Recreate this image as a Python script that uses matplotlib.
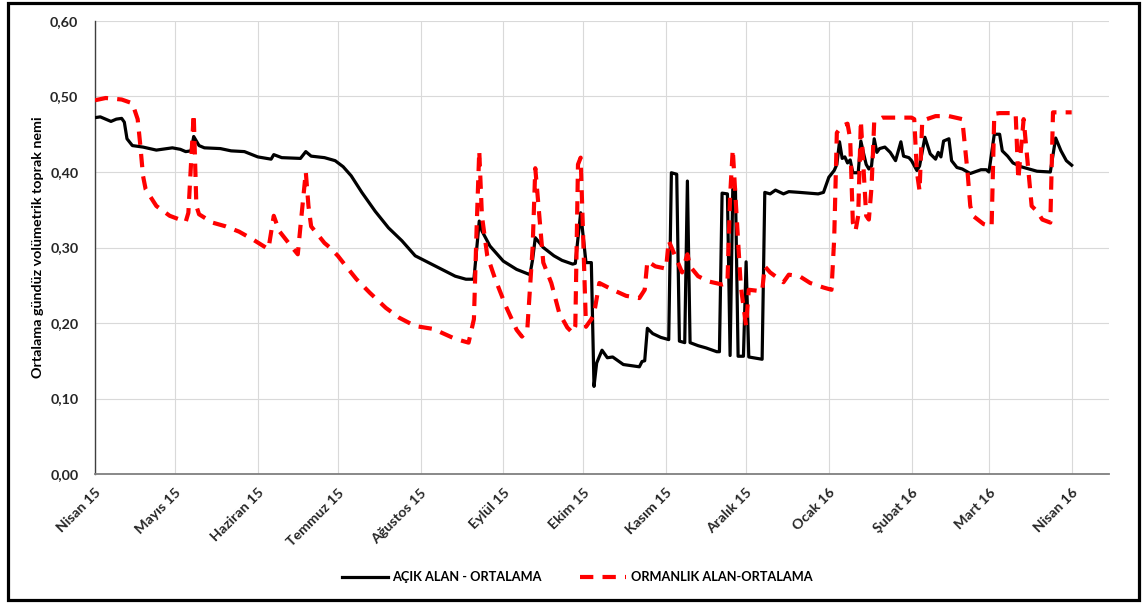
import numpy as np
import pandas as pd
import matplotlib
matplotlib.use('Agg')
import matplotlib.pyplot as plt
from matplotlib.patches import Rectangle

plt.rcParams['font.family'] = ['Lato', 'DejaVu Sans']
plt.rcParams['font.weight'] = 'bold'

baslangic = pd.Timestamp('2015-04-01')

# açık alan: gün (1 Nisan 2015'ten itibaren) ve ortalama nem
acik_gun = [0, 2, 6, 8, 10, 11, 12, 14, 18, 23, 29, 32, 34, 36, 37, 39, 41, 47, 51, 56,
            61, 66, 67, 70, 77, 79, 81, 86, 90, 93, 96, 100, 105, 110, 115, 120, 125, 130,
            135, 139, 142, 144, 145, 148, 153, 158, 163, 164, 165, 168, 172, 175, 179, 180,
            182, 184, 186, 187, 188, 190, 192, 194, 198, 202, 204, 205, 206, 207, 209, 212,
            215, 216, 218, 219, 221, 222, 223, 226, 229, 233, 234, 235, 237, 238, 239, 240,
            241, 243, 244, 245, 250, 251, 253, 255, 258, 260, 264, 271, 273, 275, 277, 278,
            279, 280, 281, 282, 283, 284, 286, 287, 288, 289, 290, 291, 292, 293, 294, 296,
            298, 300, 302, 303, 305, 306, 308, 309, 311, 313, 315, 316, 317, 318, 320, 321,
            323, 325, 328, 332, 334, 335, 337, 339, 340, 342, 344, 347, 349, 353, 358, 360,
            362, 364, 366]
acik_nem = [0.472, 0.473, 0.467, 0.470, 0.471, 0.466, 0.444, 0.435, 0.433, 0.429, 0.432, 0.430,
            0.427, 0.428, 0.447, 0.435, 0.432, 0.431, 0.428, 0.427, 0.420, 0.417, 0.423, 0.419,
            0.418, 0.427, 0.421, 0.419, 0.415, 0.407, 0.395, 0.373, 0.348, 0.326, 0.309, 0.289,
            0.280, 0.271, 0.262, 0.258, 0.258, 0.335, 0.322, 0.302, 0.282, 0.271, 0.264, 0.284,
            0.313, 0.300, 0.289, 0.283, 0.278, 0.279, 0.346, 0.280, 0.280, 0.116, 0.147, 0.164,
            0.154, 0.155, 0.145, 0.143, 0.142, 0.149, 0.150, 0.193, 0.186, 0.181, 0.178, 0.399,
            0.397, 0.176, 0.174, 0.388, 0.174, 0.170, 0.167, 0.162, 0.162, 0.372, 0.371, 0.157,
            0.377, 0.379, 0.156, 0.156, 0.281, 0.155, 0.152, 0.373, 0.371, 0.376, 0.371, 0.374,
            0.373, 0.371, 0.373, 0.393, 0.402, 0.410, 0.440, 0.418, 0.420, 0.412, 0.416, 0.399,
            0.399, 0.441, 0.425, 0.410, 0.404, 0.408, 0.444, 0.426, 0.431, 0.433, 0.426, 0.415,
            0.440, 0.421, 0.419, 0.415, 0.402, 0.408, 0.446, 0.424, 0.417, 0.426, 0.420, 0.441,
            0.444, 0.415, 0.406, 0.404, 0.398, 0.403, 0.403, 0.400, 0.450, 0.450, 0.428, 0.421,
            0.412, 0.407, 0.405, 0.401, 0.400, 0.445, 0.428, 0.415, 0.409]

# ormanlık alan
orman_gun = [0, 4, 10, 14, 16, 17, 18, 19, 23, 28, 34, 35, 37, 38, 39, 44, 49, 54, 59, 64,
             65, 67, 69, 73, 76, 77, 79, 80, 81, 86, 88, 91, 93, 98, 103, 109, 114, 120, 127,
             130, 135, 140, 142, 143, 144, 145, 147, 150, 154, 158, 160, 162, 164, 165, 168,
             171, 174, 177, 179, 180, 181, 182, 184, 186, 187, 189, 194, 199, 204, 206, 207,
             210, 214, 215, 218, 220, 222, 223, 226, 230, 235, 237, 238, 239, 240, 242, 244,
             245, 250, 251, 253, 258, 260, 264, 268, 273, 276, 277, 278, 280, 282, 283, 284,
             285, 286, 287, 289, 290, 291, 292, 295, 301, 306, 307, 308, 309, 310, 315, 320,
             325, 327, 328, 329, 333, 336, 337, 339, 345, 346, 348, 351, 353, 355, 358, 359,
             366]
orman_nem = [0.495, 0.498, 0.496, 0.491, 0.470, 0.435, 0.395, 0.377, 0.355, 0.342, 0.334,
             0.346, 0.477, 0.355, 0.344, 0.333, 0.328, 0.321, 0.311, 0.300, 0.298, 0.342,
             0.322, 0.304, 0.291, 0.328, 0.400, 0.355, 0.328, 0.306, 0.300, 0.289, 0.280,
             0.258, 0.240, 0.220, 0.207, 0.196, 0.192, 0.187, 0.179, 0.174, 0.205, 0.324,
             0.428, 0.342, 0.289, 0.258, 0.222, 0.191, 0.182, 0.191, 0.300, 0.405, 0.280,
             0.253, 0.213, 0.194, 0.187, 0.196, 0.410, 0.419, 0.195, 0.205, 0.212, 0.253,
             0.244, 0.236, 0.233, 0.244, 0.282, 0.275, 0.272, 0.309, 0.284, 0.267, 0.291,
             0.275, 0.262, 0.255, 0.251, 0.253, 0.368, 0.430, 0.368, 0.249, 0.196, 0.244,
             0.242, 0.275, 0.267, 0.254, 0.264, 0.262, 0.253, 0.247, 0.244, 0.311, 0.452,
             0.461, 0.464, 0.444, 0.333, 0.322, 0.342, 0.468, 0.342, 0.337, 0.380, 0.466,
             0.472, 0.472, 0.472, 0.470, 0.400, 0.375, 0.468, 0.474, 0.474, 0.470, 0.399,
             0.355, 0.342, 0.331, 0.328, 0.477, 0.478, 0.478, 0.390, 0.470, 0.355, 0.348,
             0.337, 0.333, 0.479, 0.479]

aylar = ['Nisan 15', 'Mayıs 15', 'Haziran 15', 'Temmuz 15', 'Ağustos 15', 'Eylül 15',
         'Ekim 15', 'Kasım 15', 'Aralık 15', 'Ocak 16', 'Şubat 16', 'Mart 16', 'Nisan 16']

acik_tarih = baslangic + pd.to_timedelta(acik_gun, unit='D')
orman_tarih = baslangic + pd.to_timedelta(orman_gun, unit='D')
ay_basi = pd.date_range('2015-04-01', periods=len(aylar), freq='MS')

fig = plt.figure(figsize=(11.47, 6.03), dpi=100)
ax = fig.add_axes([0.0828, 0.2139, 0.8841, 0.7513])

ax.plot(acik_tarih, acik_nem, color='black', lw=2.3, solid_joinstyle='round',
        label='AÇIK ALAN - ORTALAMA', zorder=3)
ax.plot(orman_tarih, orman_nem, color='#ff0000', lw=3.0, dashes=(3.2, 2.2),
        label='ORMANLIK ALAN-ORTALAMA', zorder=4)

ax.set_xlim(pd.Timestamp('2015-04-01'), pd.Timestamp('2016-04-15'))
ax.set_ylim(0, 0.6)
ax.set_yticks(np.arange(0, 0.61, 0.1))
ax.set_yticklabels(['{:.2f}'.format(v).replace('.', ',') for v in np.arange(0, 0.61, 0.1)],
                   fontsize=10.3, fontweight='bold')
ax.set_xticks(ay_basi)
ax.set_xticklabels(aylar, rotation=45, ha='right', va='top', rotation_mode='anchor',
                   fontsize=10.3, fontweight='bold')
ax.tick_params(axis='both', length=0, colors='#262626')
ax.tick_params(axis='x', pad=9)
ax.tick_params(axis='y', pad=12)

ax.grid(True, color='#d9d9d9', lw=0.8)
ax.set_axisbelow(True)
for s in ['top', 'right']:
    ax.spines[s].set_visible(False)
ax.spines['left'].set_color('#3f3f3f')
ax.spines['left'].set_linewidth(1.0)
ax.spines['bottom'].set_color('#7f7f7f')
ax.spines['bottom'].set_linewidth(1.3)

ax.set_ylabel('Ortalama gündüz volümetrik toprak nemi', fontsize=10.3, fontweight='bold',
              labelpad=4)

fig.legend(loc='center', bbox_to_anchor=(0.503, 0.043), ncol=2, frameon=False,
           handlelength=3.6, handletextpad=0.35, columnspacing=3.0,
           prop={'weight': 'bold', 'size': 9.2})

# dış çerçeve
fig.patches.append(Rectangle((0.007, 0.005), 0.986, 0.99, transform=fig.transFigure,
                             fill=False, edgecolor='black', lw=2.3, zorder=10))

fig.savefig('out.png', dpi=100)
